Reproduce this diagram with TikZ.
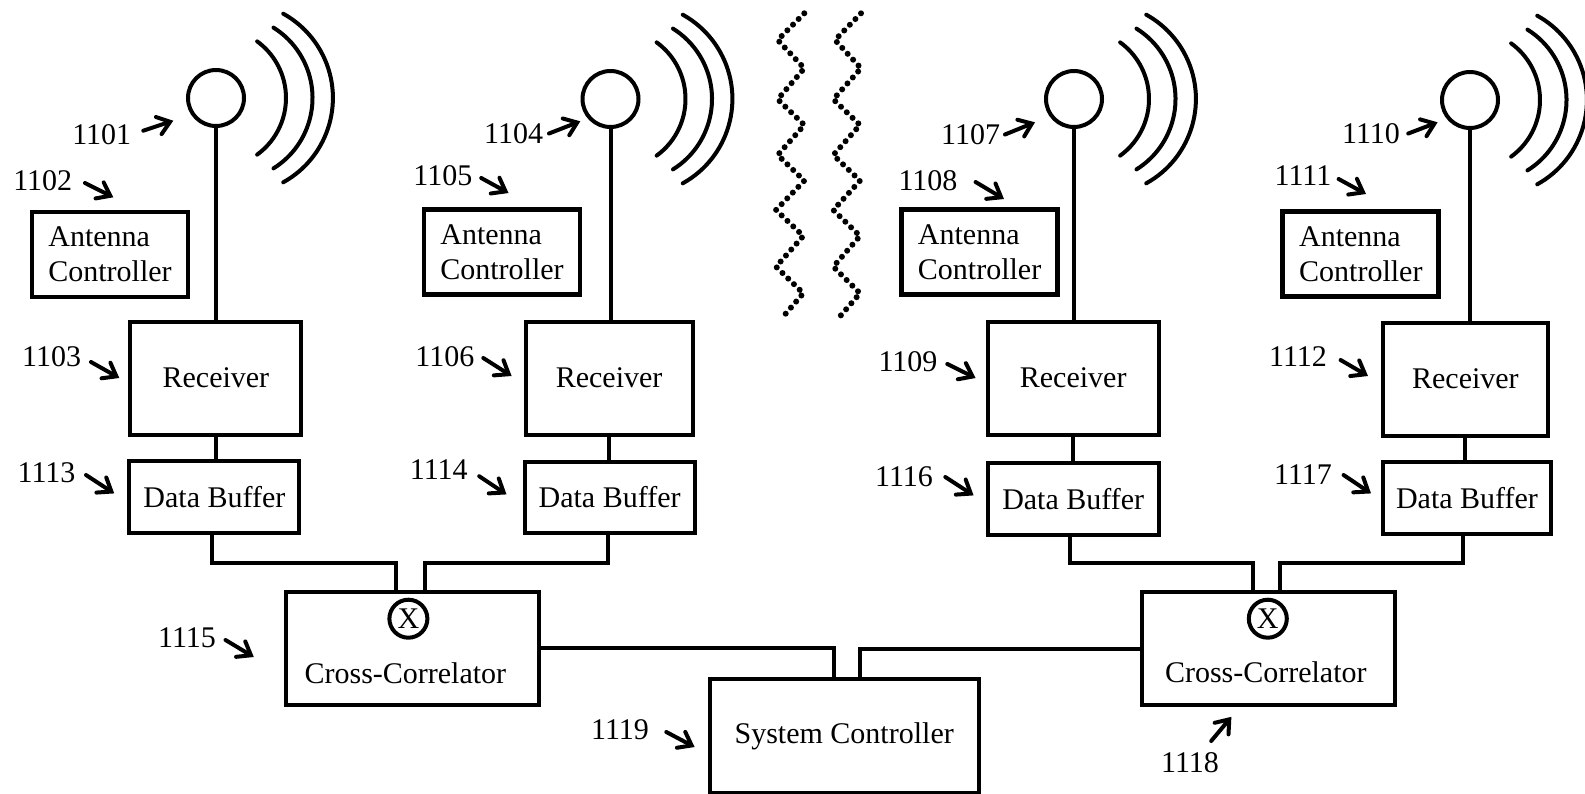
\documentclass[tikz,border=0pt]{standalone}
\usepackage{fontspec}
\setmainfont{Liberation Serif}
\usetikzlibrary{arrows.meta}

\tikzset{
	blockbox/.style={draw, line width=2pt, inner sep=0pt, align=center},
	ctrlbox/.style={draw, line width=2.4pt, inner sep=0pt, align=left, minimum width=78pt, minimum height=42.5pt},
	rxbox/.style={blockbox, minimum height=56.5pt},
	bufbox/.style={blockbox, minimum height=35.8pt},
	corrbox/.style={blockbox, minimum width=126.5pt, minimum height=56.5pt},
	antennadisc/.style={draw, circle, line width=2pt, minimum size=28pt, inner sep=0pt},
	xdisc/.style={draw, circle, line width=2pt, minimum size=19pt, inner sep=0pt},
	wire/.style={line width=2pt},
	wave/.style={line width=2pt, line cap=round},
	reflabel/.style={inner sep=0pt},
	leader/.style={line width=2pt, line cap=round, -{Straight Barb[length=6pt, width=9pt, line cap=round]}},
	dotted zig/.style={line width=3pt, line cap=round, line join=round, dash pattern=on 0pt off 4pt},
}

\begin{document}
\begin{tikzpicture}[x=0.5pt, y=-0.5pt, font=\fontsize{15}{17.5}\selectfont]
	\path[use as bounding box, clip] (0,0) rectangle (1585,793);

	% antennas
	\node[antennadisc] (ant1) at (216,98) {};
	\node[antennadisc] (ant2) at (610.5,99) {};
	\node[antennadisc] (ant3) at (1074,99) {};
	\node[antennadisc] (ant4) at (1470,100) {};
	\foreach \n/\dx in {1/0, 2/5, 3/5, 4/0} {
		\draw[wave] (ant\n) ++(\dx,0) ++(54:70) arc[start angle=54, end angle=-54, radius=70];
		\draw[wave] (ant\n) ++(\dx+13.5,0) ++(58:83) arc[start angle=58, end angle=-58, radius=83];
		\draw[wave] (ant\n) ++(\dx+20.5,0) ++(61:96.4) arc[start angle=61, end angle=-61, radius=96.4];
	}

	% antenna controllers
	\node[ctrlbox] (ctrl1) at (110,254.5) {Antenna\\Controller};
	\node[ctrlbox] (ctrl2) at (502,252.2) {Antenna\\Controller};
	\node[ctrlbox] (ctrl3) at (979.6,252.2) {Antenna\\Controller};
	\node[ctrlbox] (ctrl4) at (1360.8,254.2) {Antenna\\Controller};

	% receivers
	\node[rxbox, minimum width=85.5pt] (rx1) at (215.9,378) {Receiver};
	\node[rxbox, minimum width=83.4pt] (rx2) at (609.1,378) {Receiver};
	\node[rxbox, minimum width=85.5pt] (rx3) at (1073.2,378) {Receiver};
	\node[rxbox, minimum width=82.4pt] (rx4) at (1465.4,379) {Receiver};

	% data buffers
	\node[bufbox, minimum width=85pt] (buf1) at (214.4,497) {Data Buffer};
	\node[bufbox, minimum width=85pt] (buf2) at (609.6,497.4) {Data Buffer};
	\node[bufbox, minimum width=85.5pt] (buf3) at (1073.2,499) {Data Buffer};
	\node[bufbox, minimum width=84pt] (buf4) at (1467,498) {Data Buffer};

	% correlators
	\node[corrbox] (corr1) at (412,648) {};
	\node[corrbox] (corr2) at (1268.2,648.5) {};
	\node[xdisc] (x1) at (408.4,618.7) {X};
	\node[xdisc] (x2) at (1267.8,618.7) {X};
	\node (corr1txt) at (405.4,673) {Cross-Correlator};
	\node (corr2txt) at (1265.8,672) {Cross-Correlator};

	\node[blockbox, minimum width=134.5pt, minimum height=56.6pt] (sys) at (844.2,736) {System Controller};

	% connections
	\foreach \n in {1,...,4} {
		\draw[wire] (ant\n.south) -- (ant\n.south |- rx\n.north);
		\draw[wire] (rx\n.south) -- (rx\n.south |- buf\n.north);
	}
	\coordinate (buf1out) at (212.3,532.8);
	\coordinate (buf2out) at (607.6,532.8);
	\coordinate (buf3out) at (1069.6,534.8);
	\coordinate (buf4out) at (1463,533.8);
	\coordinate (corr1a) at (396.3,591.5);
	\coordinate (corr1b) at (424.6,591.5);
	\coordinate (corr2a) at (1252.6,592.4);
	\coordinate (corr2b) at (1280,592.4);
	\coordinate (sysa) at (834,679.4);
	\coordinate (sysb) at (860.4,679.4);
	\draw[wire] (buf1out) -- (212.3,562.5) -| (corr1a);
	\draw[wire] (buf2out) -- (607.6,562.5) -| (corr1b);
	\draw[wire] (buf3out) -- (1069.6,562.5) -| (corr2a);
	\draw[wire] (buf4out) -- (1463,562.5) -| (corr2b);
	\draw[wire] (corr1.east) -| (sysa);
	\draw[wire] (corr2.west) -| (sysb);

	% break marks
	\draw[dotted zig] (804.3,13.3) -- (777.7,40) -- (804.3,68.3) -- (777.7,99.3) -- (804.3,125) -- (777.7,155) -- (804.3,180.7) -- (776,210) -- (803.3,236) -- (776,266.7) -- (803.3,293.3) -- (781.7,318.3);
	\draw[dotted zig] (861,13.3) -- (835,40) -- (861,68.3) -- (833.3,99.3) -- (860,125) -- (833.3,155) -- (860,180.7) -- (833.3,210) -- (860,236) -- (833.3,266.7) -- (860,293.3) -- (838.3,318.3);

	% reference numbers
	\foreach \n/\lx/\ly/\sx/\sy/\ex/\ey in {
		1101/101.7/135/143.3/130.7/173.3/120.7,
		1102/42.7/181/85/183/113.3/197.3,
		1103/51.6/357/91/362/119.3/378,
		1104/513.6/133.5/549/133.5/580.3/121.3,
		1105/442.8/176/481.2/178/508.5/193,
		1106/444.8/357/483.3/358/511.6/376,
		1107/970.6/134.5/1005/134.5/1035/122.3,
		1108/928/181/975.6/182/1004/199,
		1109/908/362/947.3/364/975.6/378,
		1110/1371/133.5/1408.3/133.5/1437.6/122.3,
		1111/1303/176/1338.6/179/1366/194,
		1112/1298/357/1340.6/360/1368/376,
		1113/46.5/473/86/475/114.2/493.4,
		1114/438.8/470/479.2/476.2/506.5/494.4,
		1115/187/638/225.5/640/253.8/657,
		1116/904/477/945.3/477/973.6/495.4,
		1117/1303/475/1343.6/475/1371/493.4,
		1118/1190/762.3/1211.2/741/1231.4/716.8,
		1119/620/730/666.3/732/694.6/747} {
		\node[reflabel] (lbl\n) at (\lx,\ly) {\n};
		\coordinate (from\n) at (\sx,\sy);
		\coordinate (tip\n) at (\ex,\ey);
		\draw[leader] (from\n) -- (tip\n);
	}
\end{tikzpicture}
\end{document}
